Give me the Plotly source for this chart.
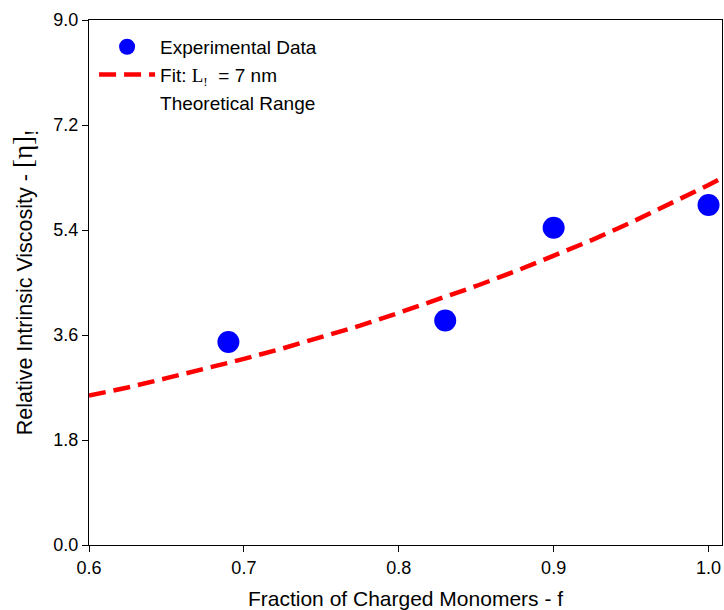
import plotly.graph_objects as go

# Experimental data
frac_exp = [0.69, 0.83, 0.90, 1.00]
visc_exp = [3.48, 3.85, 5.44, 5.83]

# Fit curve
frac_fit = [0.600, 0.625, 0.650, 0.675, 0.700, 0.725, 0.750, 0.775, 0.800,
            0.825, 0.850, 0.875, 0.900, 0.925, 0.950, 0.975, 1.000, 1.010]
visc_fit = [2.56, 2.70, 2.86, 3.02, 3.19, 3.37, 3.56, 3.76, 3.98,
            4.20, 4.44, 4.69, 4.95, 5.23, 5.53, 5.84, 6.17, 6.31]

x_ticks = [0.6, 0.7, 0.8, 0.9, 1.0]
y_ticks = [0.0, 1.8, 3.6, 5.4, 7.2, 9.0]

serif = "font-family:'Liberation Serif','DejaVu Serif',serif"

fig = go.Figure()
fig.add_trace(go.Scatter(
    x=frac_exp, y=visc_exp, mode="markers", name="Experimental Data",
    legendgroup="a",
    marker=dict(color="#0000ff", size=22, line=dict(width=0)),
))
fig.add_trace(go.Scatter(
    x=frac_fit, y=visc_fit, mode="lines", legendgroup="b",
    name=f"Fit: <span style=\"{serif}\">L<sub>!</sub></span>  = 7 nm",
    line=dict(color="#ff0000", width=4.5, dash="17px,8px"),
))
fig.add_trace(go.Scatter(
    x=[None], y=[None], mode="lines", name="Theoretical Range",
    legendgroup="c",
    line=dict(color="rgba(0,0,0,0)", width=0),
))

axis_common = dict(
    showline=True, linecolor="black", linewidth=1, mirror=True,
    ticks="outside", ticklen=6, tickcolor="black", showgrid=False,
    zeroline=False, tickfont=dict(size=18, color="black"),
)

fig.update_layout(
    width=724, height=610,
    margin=dict(l=89, r=1.5, t=20, b=65),
    paper_bgcolor="white", plot_bgcolor="white",
    font=dict(family="Liberation Sans, Arial, sans-serif", color="black"),
    xaxis=dict(range=[0.6, 1.0087], tickvals=x_ticks, tickformat=".1f",
               title=dict(text="Fraction of Charged Monomers - f",
                          font=dict(size=21), standoff=14),
               **axis_common),
    yaxis=dict(range=[0, 9], tickvals=y_ticks, tickformat=".1f",
               title=dict(text=f"Relative Intrinsic Viscosity - <span style=\"{serif};font-size:27px\">[η]<sub>!</sub></span>",
                          font=dict(size=21.5), standoff=14),
               **axis_common),
    legend=dict(x=0.008, y=0.985, xanchor="left", yanchor="top",
                bgcolor="rgba(0,0,0,0)", font=dict(size=19),
                itemwidth=56, tracegroupgap=0),
    showlegend=True,
)

fig.write_html("out.html", config={"displayModeBar": False},
               post_script="document.body.style.margin='0';")
